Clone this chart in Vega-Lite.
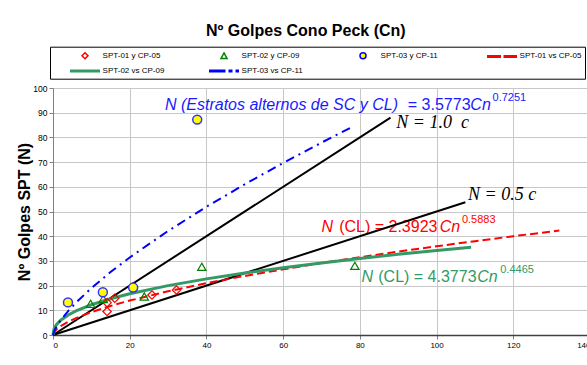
{
  "$schema": "https://vega.github.io/schema/vega-lite/v6.json",
  "width": 537,
  "height": 247,
  "autosize": {"type": "none"},
  "padding": {"left": 53, "top": 88, "right": 0, "bottom": 30},
  "background": "white",
  "config": {"view": {"stroke": null}, "font": "Liberation Sans"},
  "title": {"text": "Nº Golpes Cono Peck (Cn)", "anchor": "start", "frame": "group", "dx": 153, "offset": -6, "fontSize": 16, "fontWeight": "bold", "font": "Liberation Sans", "color": "black", "baseline": "alphabetic"},
  "datasets": {
    "blueFit": [{"x":0,"y":0},{"x":0.25,"y":1.31},{"x":0.5,"y":2.16},{"x":1,"y":3.58},{"x":2,"y":5.91},{"x":4,"y":9.78},{"x":6,"y":13.11},{"x":10,"y":19.0},{"x":15,"y":25.49},{"x":20,"y":31.4},{"x":30,"y":42.13},{"x":40,"y":51.9},{"x":50,"y":61.02},{"x":60,"y":69.65},{"x":70,"y":77.88},{"x":78,"y":84.25}],
    "redFit": [{"x":0,"y":0},{"x":0.25,"y":1.06},{"x":0.5,"y":1.59},{"x":1,"y":2.39},{"x":2,"y":3.6},{"x":4,"y":5.41},{"x":6,"y":6.86},{"x":10,"y":9.27},{"x":15,"y":11.77},{"x":20,"y":13.94},{"x":30,"y":17.69},{"x":40,"y":20.96},{"x":50,"y":23.9},{"x":60,"y":26.6},{"x":70,"y":29.13},{"x":80,"y":31.51},{"x":90,"y":33.77},{"x":100,"y":35.93},{"x":110,"y":38.0},{"x":120,"y":39.99},{"x":132,"y":42.3}],
    "greenFit": [{"x":0,"y":0},{"x":0.25,"y":2.36},{"x":0.5,"y":3.21},{"x":1,"y":4.38},{"x":2,"y":5.97},{"x":4,"y":8.13},{"x":6,"y":9.74},{"x":10,"y":12.24},{"x":15,"y":14.67},{"x":20,"y":16.68},{"x":30,"y":19.99},{"x":40,"y":22.73},{"x":50,"y":25.11},{"x":60,"y":27.24},{"x":70,"y":29.18},{"x":80,"y":30.97},{"x":90,"y":32.65},{"x":100,"y":34.22},{"x":109,"y":35.56}],
    "line10": [{"x":0,"y":0},{"x":88,"y":88}],
    "line05": [{"x":0,"y":0},{"x":107.5,"y":53.75}],
    "spt01": [{"x":14.1,"y":13.1},{"x":14.1,"y":9.5},{"x":16.1,"y":14.9},{"x":25.8,"y":16.2},{"x":32.2,"y":18.2}],
    "spt02": [{"x":9.8,"y":12.6},{"x":13.1,"y":14.6},{"x":23.8,"y":15.6},{"x":38.8,"y":27.6},{"x":78.7,"y":28.0}],
    "spt03": [{"x":3.9,"y":13.2},{"x":13.0,"y":17.3},{"x":20.9,"y":19.2},{"x":37.6,"y":87.2}],
    "italicText": [
      {"eq":"b","text":"N (Estratos alternos de SC y CL)","x":29.2,"y":90.9},
      {"eq":"b","text":"Cn","x":108.8,"y":90.9},
      {"eq":"r","text":"N","x":70.0,"y":41.8},
      {"eq":"r","text":"Cn","x":100.8,"y":41.8},
      {"eq":"g","text":"N","x":80.4,"y":21.6},
      {"eq":"g","text":"Cn","x":110.6,"y":21.6}
    ],
    "uprightText": [
      {"eq":"b","text":"= 3.5773","x":92.5,"y":90.9},
      {"eq":"r","text":"(CL) = 2.3923","x":74.6,"y":41.8},
      {"eq":"g","text":"(CL) = 4.3773","x":84.8,"y":21.6}
    ],
    "supText": [
      {"eq":"b","text":"0.7251","x":114.6,"y":94.6},
      {"eq":"r","text":"0.5883","x":106.6,"y":45.5},
      {"eq":"g","text":"0.4465","x":116.6,"y":25.0}
    ],
    "serifText": [
      {"text":"N = 1.0\u00a0\u00a0c","x":89.5,"y":83.8},
      {"text":"N = 0.5 c","x":108.2,"y":54.7}
    ],
    "legendItems": [
      {"series":"SPT-01 y CP-05"},{"series":"SPT-02 y CP-09"},{"series":"SPT-03 y CP-11"},
      {"series":"SPT-01 vs CP-05"},{"series":"SPT-02 vs CP-09"},{"series":"SPT-03 vs CP-11"}
    ]
  },
  "encoding": {
    "x": {"field": "x", "type": "quantitative",
      "scale": {"domain": [0, 140], "nice": false, "zero": false},
      "axis": {"values": [0,20,40,60,80,100,120,140], "title": null, "labelFontSize": 8, "labelColor": "black", "labelFont": "Liberation Sans",
        "domainColor": "#404040", "domainWidth": 1.5, "tickColor": "#808080", "tickSize": 4, "labelPadding": 2,
        "gridColor": "#c8c8c8", "gridWidth": 1}},
    "y": {"field": "y", "type": "quantitative",
      "scale": {"domain": [0, 100], "nice": false, "zero": false},
      "axis": {"values": [0,10,20,30,40,50,60,70,80,90,100], "title": "Nº Golpes SPT (N)", "titleFontSize": 16, "titleFontWeight": "bold", "titleColor": "black", "titleFont": "Liberation Sans", "titlePadding": 0,
        "labelFontSize": 8.5, "labelColor": "black", "labelFont": "Liberation Sans", "labelPadding": 2,
        "domainColor": "#808080", "tickColor": "#808080", "tickSize": 4,
        "gridColor": "#c8c8c8", "gridWidth": 1}}
  },
  "layer": [
    {"data": {"name": "italicText"}, "mark": {"type": "text", "align": "left", "baseline": "alphabetic", "fontSize": 16, "fontStyle": "italic", "font": "Liberation Sans"},
     "encoding": {"text": {"field": "text"}, "color": {"field": "eq", "type": "nominal", "scale": {"domain": ["b","r","g"], "range": ["#1a1aff","#ff0000","#339966"]}, "legend": null}}},
    {"data": {"name": "uprightText"}, "mark": {"type": "text", "align": "left", "baseline": "alphabetic", "fontSize": 16, "font": "Liberation Sans"},
     "encoding": {"text": {"field": "text"}, "color": {"field": "eq", "type": "nominal", "legend": null}}},
    {"data": {"name": "supText"}, "mark": {"type": "text", "align": "left", "baseline": "alphabetic", "fontSize": 11, "font": "Liberation Sans"},
     "encoding": {"text": {"field": "text"}, "color": {"field": "eq", "type": "nominal", "legend": null}}},
    {"data": {"name": "serifText"}, "mark": {"type": "text", "align": "left", "baseline": "alphabetic", "fontSize": 18, "fontStyle": "italic", "font": "Liberation Serif", "color": "black"},
     "encoding": {"text": {"field": "text"}}},
    {"data": {"name": "line10"}, "mark": {"type": "line", "color": "black", "strokeWidth": 2}, "encoding": {}},
    {"data": {"name": "line05"}, "mark": {"type": "line", "color": "black", "strokeWidth": 2}, "encoding": {}},
    {"data": {"name": "redFit"}, "mark": {"type": "line", "color": "#ff0000", "strokeWidth": 2, "strokeDash": [8, 4]}, "encoding": {}},
    {"data": {"name": "greenFit"}, "mark": {"type": "line", "color": "#339966", "strokeWidth": 3}, "encoding": {}},
    {"data": {"name": "blueFit"}, "mark": {"type": "line", "color": "#0000ff", "strokeWidth": 2, "strokeDash": [9, 5, 2, 5]}, "encoding": {}},
    {"data": {"name": "spt01"}, "mark": {"type": "point", "shape": "diamond", "filled": false, "stroke": "#ff0000", "strokeWidth": 1.2, "size": 70, "opacity": 1}, "encoding": {}},
    {"data": {"name": "spt02"}, "mark": {"type": "point", "shape": "triangle-up", "filled": false, "stroke": "#008000", "strokeWidth": 1.2, "size": 70, "opacity": 1}, "encoding": {}},
    {"data": {"name": "spt03"}, "mark": {"type": "point", "shape": "circle", "filled": true, "fill": "#ffff00", "stroke": "#3333ff", "strokeWidth": 1.5, "size": 80, "opacity": 1}, "encoding": {}},
    {"data": {"name": "legendItems"}, "mark": {"type": "point", "filled": true, "opacity": 1, "clip": true},
     "encoding": {
       "x": {"datum": -100, "type": "quantitative"},
       "y": {"datum": -100, "type": "quantitative"},
       "shape": {"field": "series", "type": "nominal",
         "scale": {"domain": ["SPT-01 y CP-05","SPT-02 y CP-09","SPT-03 y CP-11","SPT-01 vs CP-05","SPT-02 vs CP-09","SPT-03 vs CP-11"],
           "range": ["M0,-0.6L0.6,0L0,0.6L-0.6,0Z", "M0,-0.6L0.6,0.5L-0.6,0.5Z", "M-0.6,0A0.6,0.6,0,1,0,0.6,0A0.6,0.6,0,1,0,-0.6,0Z",
             "M-3,-0.3H-0.2V0.3H-3ZM0.3,-0.3H3V0.3H0.3Z", "M-3,-0.3H3V0.3H-3Z", "M-3,-0.3H0.3V0.3H-3ZM0.9,-0.3H1.7V0.3H0.9ZM2.3,-0.3H3V0.3H2.3Z"]},
         "legend": {"title": " ", "titleOrient": "left", "titlePadding": 26, "titleFontSize": 8,
           "orient": "none", "legendX": -3, "legendY": -41.3, "direction": "horizontal", "columns": 4, "gridAlign": "all",
           "columnPadding": 41, "rowPadding": 3.3, "symbolSize": 100, "symbolStrokeWidth": 1.5, "labelOffset": 11.6,
           "labelFontSize": 8, "labelFont": "Liberation Sans", "labelColor": "black", "strokeColor": "black", "padding": 3, "fillColor": "white"}},
       "fill": {"field": "series", "type": "nominal",
         "scale": {"domain": ["SPT-01 y CP-05","SPT-02 y CP-09","SPT-03 y CP-11","SPT-01 vs CP-05","SPT-02 vs CP-09","SPT-03 vs CP-11"],
           "range": ["transparent","transparent","#ffff00","#ff0000","#339966","#0000ff"]}},
       "stroke": {"field": "series", "type": "nominal",
         "scale": {"domain": ["SPT-01 y CP-05","SPT-02 y CP-09","SPT-03 y CP-11","SPT-01 vs CP-05","SPT-02 vs CP-09","SPT-03 vs CP-11"],
           "range": ["#ff0000","#008000","#0000ff","transparent","transparent","transparent"]}}
     }}
  ]
}
